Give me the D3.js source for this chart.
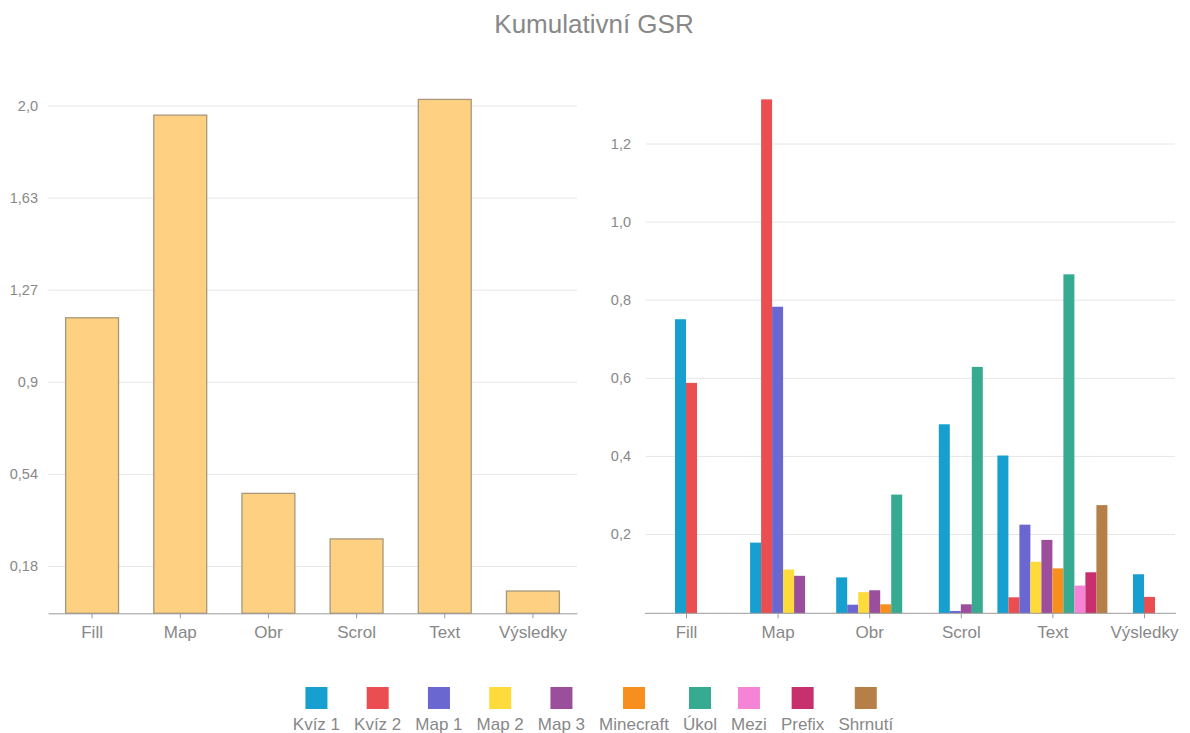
<!DOCTYPE html>
<html>
<head>
<meta charset="utf-8">
<script src="https://cdn.jsdelivr.net/npm/d3@7"></script>
<style>
  body { margin: 0; background: #fff; }
  text { font-family: "Liberation Sans", Arial, sans-serif; fill: #888; }
</style>
</head>
<body>
<svg id="chart" width="1190" height="733"></svg>
<script>
// Kumulativni GSR -- left: total per activity, right: split by series

const categories = ["Fill", "Map", "Obr", "Scrol", "Text", "Výsledky"];

// left chart
const totals = [1.161, 1.962, 0.467, 0.287, 2.024, 0.081];
const leftTicks = [0.18, 0.544, 0.908, 1.272, 1.636, 2.0];
const leftTickLabels = ["0,18", "0,54", "0,9", "1,27", "1,63", "2,0"];

// right chart (null = no bar)
const seriesNames = ["Kvíz 1", "Kvíz 2", "Map 1", "Map 2", "Map 3", "Minecraft", "Úkol", "Mezi", "Prefix", "Shrnutí"];
const seriesColors = ["#179fcf", "#ea4e51", "#6a67d1", "#fddb3a", "#9a4e9b", "#f78f1f", "#36ab91", "#f684d6", "#c7306c", "#b67f47"];
const kviz1 = [0.750, 0.178, 0.089, 0.481, 0.401, 0.097];
const kviz2 = [0.587, 1.313, null, null, 0.038, 0.039];
const map1 = [null, 0.782, 0.019, 0.003, 0.224, null];
const map2 = [null, 0.109, 0.051, null, 0.129, null];
const map3 = [null, 0.093, 0.056, 0.020, 0.185, null];
const minecraft = [null, null, 0.020, null, 0.112, null];
const ukol = [null, null, 0.301, 0.628, 0.865, null];
const mezi = [null, null, null, null, 0.068, null];
const prefix = [null, null, null, null, 0.102, null];
const shrnuti = [null, null, null, null, 0.274, null];
const seriesValues = [kviz1, kviz2, map1, map2, map3, minecraft, ukol, mezi, prefix, shrnuti];
const rightTicks = [0.2, 0.4, 0.6, 0.8, 1.0, 1.2];

const GRID = "#e6e6e6";
const AXIS = "#9a9a9a";

const svg = d3.select("#chart");

svg.append("text")
  .attr("x", 594).attr("y", 33)
  .attr("text-anchor", "middle")
  .style("font-size", "26px")
  .text("Kumulativní GSR");

// ---------- left chart ----------
const baseY = 613.3;
const left = svg.append("g");

const lx = d3.scaleBand()
  .domain(categories)
  .range([48, 577])
  .paddingInner(0.4)
  .paddingOuter(0.2);

const ly = d3.scaleLinear()
  .domain([-0.007, 2.0])
  .range([baseY, 105.5]);

const lyAxis = left.append("g")
  .attr("transform", "translate(48,0)")
  .call(d3.axisLeft(ly)
    .tickValues(leftTicks)
    .tickFormat((d, i) => leftTickLabels[i])
    .tickSize(-529)
    .tickPadding(10));
lyAxis.select(".domain").remove();
lyAxis.selectAll("line").attr("stroke", GRID);
lyAxis.selectAll("text").style("font-size", "14.5px").attr("fill", "#888");

left.selectAll("rect.total")
  .data(totals)
  .join("rect")
  .attr("class", "total")
  .attr("x", (d, i) => lx(categories[i]))
  .attr("y", d => ly(d))
  .attr("width", lx.bandwidth())
  .attr("height", d => ly(-0.007) - ly(d))
  .attr("fill", "#fed182")
  .attr("stroke", "#a8977a")
  .attr("stroke-width", 1.3);

const lxAxis = left.append("g")
  .attr("transform", `translate(0,${baseY})`)
  .call(d3.axisBottom(lx).tickSize(5).tickPadding(8).tickSizeOuter(0));
lxAxis.select(".domain").attr("stroke", AXIS);
lxAxis.selectAll("line").attr("stroke", AXIS);
lxAxis.selectAll("text").style("font-size", "17px").attr("fill", "#888");

// ---------- right chart ----------
const right = svg.append("g");
const barW = 11;

const rx = d3.scalePoint()
  .domain(categories)
  .range([686, 1144]);

const ry = d3.scaleLinear()
  .domain([-0.003, 1.2])
  .range([baseY, 143.5]);

const ryAxis = right.append("g")
  .attr("transform", "translate(646,0)")
  .call(d3.axisLeft(ry)
    .tickValues(rightTicks)
    .tickFormat(d3.format(".1f"))
    .tickSize(-529)
    .tickPadding(15));
ryAxis.select(".domain").remove();
ryAxis.selectAll("line").attr("stroke", GRID);
ryAxis.selectAll("text")
  .style("font-size", "14.5px")
  .attr("fill", "#888")
  .text(d => d3.format(".1f")(d).replace(".", ","));

categories.forEach((cat, ci) => {
  const present = seriesNames
    .map((name, si) => ({ name, si, v: seriesValues[si][ci] }))
    .filter(d => d.v != null);
  const c = rx(cat);
  const inner = d3.scaleBand()
    .domain(present.map(d => d.name))
    .range([c - present.length * barW / 2, c + present.length * barW / 2]);

  right.append("g").selectAll("rect")
    .data(present)
    .join("rect")
    .attr("x", d => inner(d.name))
    .attr("y", d => ry(d.v))
    .attr("width", inner.bandwidth())
    .attr("height", d => ry(-0.003) - ry(d.v))
    .attr("fill", d => seriesColors[d.si]);
});

right.append("line")
  .attr("x1", 645).attr("x2", 1176)
  .attr("y1", baseY).attr("y2", baseY)
  .attr("stroke", AXIS);

const rxAxis = right.append("g")
  .attr("transform", `translate(0,${baseY})`)
  .call(d3.axisBottom(rx).tickSize(5).tickPadding(8));
rxAxis.select(".domain").remove();
rxAxis.selectAll("line").attr("stroke", AXIS);
rxAxis.selectAll("text").style("font-size", "17px").attr("fill", "#888");

// ---------- legend ----------
const legend = svg.append("g");
const items = legend.selectAll("g")
  .data(seriesNames)
  .join("g");

items.append("text")
  .attr("y", 730)
  .attr("text-anchor", "middle")
  .style("font-size", "17px")
  .text(d => d);

const widths = [];
items.select("text").each(function () { widths.push(this.getComputedTextLength()); });
const gap = 14;
const total = d3.sum(widths) + gap * (widths.length - 1);
let cursor = 593 - total / 2;
const centers = widths.map(w => { const cx = cursor + w / 2; cursor += w + gap; return cx; });

items.attr("transform", (d, i) => `translate(${centers[i]},0)`);
items.append("rect")
  .attr("x", -11).attr("y", 687)
  .attr("width", 22).attr("height", 22)
  .attr("fill", (d, i) => seriesColors[i]);
</script>
</body>
</html>
